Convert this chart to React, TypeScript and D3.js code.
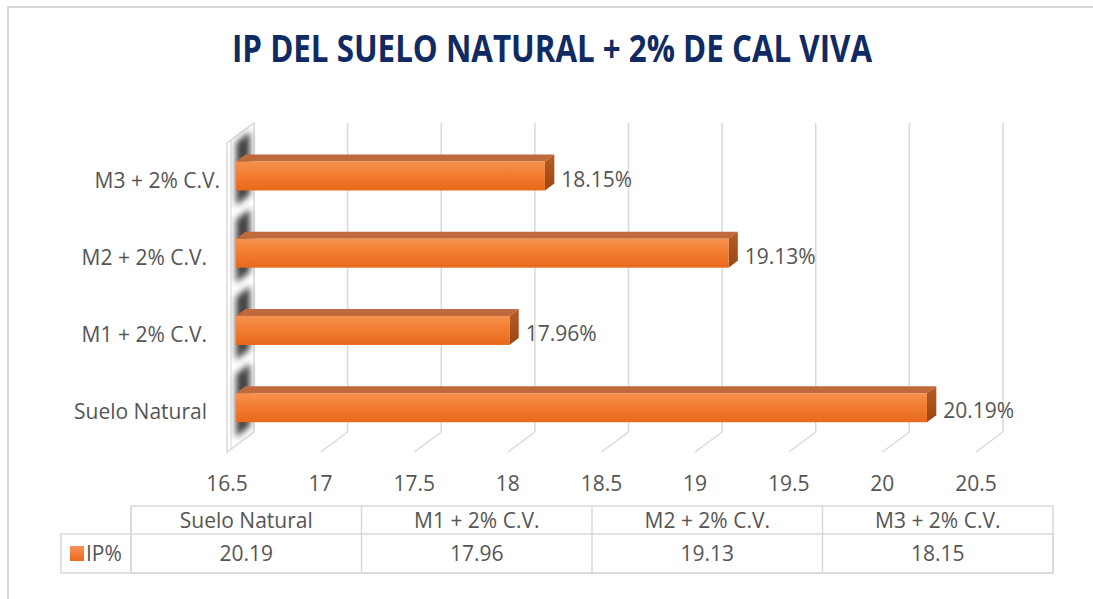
import React from 'react';
import * as d3 from 'd3';

// categories, bottom to top as in the chart
const categories = ['Suelo Natural', 'M1 + 2% C.V.', 'M2 + 2% C.V.', 'M3 + 2% C.V.'];
const ipValues = [20.19, 17.96, 19.13, 18.15];
const tickValues = [16.5, 17, 17.5, 18, 18.5, 19, 19.5, 20, 20.5];
const seriesName = 'IP%';
const title = 'IP DEL SUELO NATURAL + 2% DE CAL VIVA';

const W = 1093;
const H = 599;
const FONT = '"Open Sans", "DejaVu Sans", sans-serif';
const FS = 21;
const TEXT = '#555555';
const GRID = '#d9d9d9';

// 3D projection: depth d in [0,1] moves a point up-right
const DX = 27;
const DY = 20;
const front = { top: 143, bottom: 452 };

const App = () => {
  const x = d3.scaleLinear().domain([16.5, 20.5]).range([227, 976]);
  const y = d3
    .scaleBand()
    .domain([...categories].reverse())
    .range([front.top, front.bottom]);

  const P = (v: number, y0: number, d: number) => [x(v) + DX * d, y0 - DY * d];
  const pts = (arr: number[][]) => arr.map((p) => p.join(',')).join(' ');

  const d0 = 1 / 3;
  const d1 = 0.68;
  const barH = 29;
  const base = 16.5;

  // table layout
  const tLeft = 61;
  const tCol0 = 131;
  const tRight = 1053;
  const tTop = 506;
  const tMid = 534;
  const tBot = 573;
  const colW = (tRight - tCol0) / categories.length;

  return (
    <svg
      width={W}
      height={H}
      style={{ position: 'absolute', left: 0, top: 0, background: '#fff' }}
    >
      <defs>
        <linearGradient id="frontG" x1="0" y1="0" x2="0" y2="1">
          <stop offset="0%" stopColor="#f6914f" />
          <stop offset="45%" stopColor="#f27d31" />
          <stop offset="100%" stopColor="#e8691b" />
        </linearGradient>
        <linearGradient id="sideG" x1="0" y1="0" x2="0" y2="1">
          <stop offset="0%" stopColor="#b65c27" />
          <stop offset="100%" stopColor="#9a4713" />
        </linearGradient>
        <linearGradient id="legG" x1="0" y1="0" x2="0" y2="1">
          <stop offset="0%" stopColor="#f69158" />
          <stop offset="100%" stopColor="#ea6a1c" />
        </linearGradient>
        <filter id="blur" x="-50%" y="-20%" width="200%" height="140%">
          <feGaussianBlur stdDeviation="3" />
        </filter>
      </defs>

      {/* chart border */}
      <rect x={8} y={7} width={1120} height={620} fill="#fff" stroke={GRID} strokeWidth={2} />

      <text
        x={552}
        y={62}
        textAnchor="middle"
        fontFamily={FONT}
        fontWeight="bold"
        fontSize={37}
        fill="#102a63"
        textLength={640}
        lengthAdjust="spacingAndGlyphs"
      >
        {title}
      </text>

      {/* back wall gridlines + floor diagonals */}
      {tickValues.slice(1).map((t) => {
        const bt = P(t, front.top, 1);
        const bb = P(t, front.bottom, 1);
        const fb = P(t, front.bottom, 0);
        return (
          <g key={t} stroke={GRID} strokeWidth={1.5} fill="none">
            <line x1={bt[0]} y1={bt[1]} x2={bb[0]} y2={bb[1]} />
            <line x1={bb[0]} y1={bb[1]} x2={fb[0]} y2={fb[1]} />
          </g>
        );
      })}

      {/* left side wall */}
      <polygon
        points={pts([
          P(base, front.top, 0),
          P(base, front.top, 1),
          P(base, front.bottom, 1),
          P(base, front.bottom, 0),
        ])}
        fill="#fff"
        stroke={GRID}
        strokeWidth={1.5}
      />
      <line
        x1={x(base) + 4}
        y1={front.top - 3}
        x2={x(base) + 4}
        y2={front.bottom - 3}
        stroke={GRID}
        strokeWidth={1}
      />

      {/* bar shadows on the wall */}
      {categories.map((c) => {
        const yc = (y(c) as number) + y.bandwidth() / 2 + 1;
        const yt = yc - barH / 2 - DY * d0;
        const yb = yc + barH / 2 - DY * d0;
        return (
          <polygon
            key={'s' + c}
            points={pts([
              [250, yt - 30],
              [250, yb + 4],
              [236, yb + 15],
              [236, yt - 19],
            ])}
            fill="#2e2e2e"
            opacity={0.9}
            filter="url(#blur)"
          />
        );
      })}

      {/* bars */}
      {categories.map((c, i) => {
        const v = ipValues[i];
        const yc = (y(c) as number) + y.bandwidth() / 2 + 1;
        const yt = yc - barH / 2;
        const yb = yc + barH / 2;
        const f0 = P(base, yt, d0);
        const f1 = P(v, yb, d0);
        const sideEnd = P(v, yc, d1);
        return (
          <g key={c}>
            <polygon
              points={pts([P(base, yt, d0), P(v, yt, d0), P(v, yt, d1), P(base, yt, d1)])}
              fill="#c0693d"
            />
            <polygon
              points={pts([P(v, yt, d0), P(v, yt, d1), P(v, yb, d1), P(v, yb, d0)])}
              fill="url(#sideG)"
            />
            <rect
              x={f0[0]}
              y={f0[1]}
              width={f1[0] - f0[0]}
              height={f1[1] - f0[1]}
              fill="url(#frontG)"
            />
            <text
              x={sideEnd[0] + 7}
              y={yc - 4}
              dominantBaseline="central"
              fontFamily={FONT}
              fontSize={FS}
              fill={TEXT}
            >
              {v.toFixed(2) + '%'}
            </text>
            <text
              x={c.startsWith('M3') ? 220 : 207}
              y={yc - 3}
              textAnchor="end"
              dominantBaseline="central"
              fontFamily={FONT}
              fontSize={FS}
              fill={TEXT}
            >
              {c}
            </text>
          </g>
        );
      })}

      {/* value axis tick labels */}
      {tickValues.map((t) => (
        <text
          key={'t' + t}
          x={x(t)}
          y={483}
          textAnchor="middle"
          dominantBaseline="central"
          fontFamily={FONT}
          fontSize={FS}
          fill={TEXT}
        >
          {t}
        </text>
      ))}

      {/* data table */}
      <g stroke={GRID} strokeWidth={1.5} fill="none">
        <rect x={tCol0} y={tTop} width={tRight - tCol0} height={tBot - tTop} />
        <rect x={tLeft} y={tMid} width={tRight - tLeft} height={tBot - tMid} />
        {categories.map((c, i) => (
          <line key={'cl' + c} x1={tCol0 + colW * i} y1={tTop} x2={tCol0 + colW * i} y2={tBot} />
        ))}
      </g>
      {categories.map((c, i) => (
        <g key={'tc' + c} fontFamily={FONT} fontSize={FS} fill={TEXT} textAnchor="middle">
          <text x={tCol0 + colW * (i + 0.5)} y={520} dominantBaseline="central">
            {c}
          </text>
          <text x={tCol0 + colW * (i + 0.5)} y={553} dominantBaseline="central">
            {ipValues[i].toFixed(2)}
          </text>
        </g>
      ))}
      <rect x={70} y={546} width={14} height={15} fill="url(#legG)" />
      <text
        x={86}
        y={553}
        dominantBaseline="central"
        fontFamily={FONT}
        fontSize={FS}
        fill={TEXT}
      >
        {seriesName}
      </text>
    </svg>
  );
};

export default App;
